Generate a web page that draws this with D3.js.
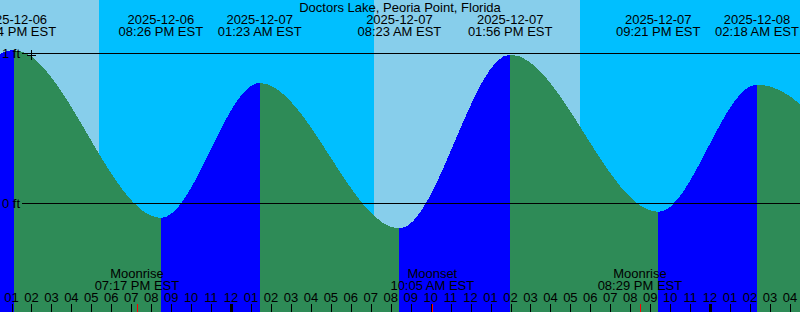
<html>
<head>
<style>
  body { margin: 0; }
  svg { display: block; }
  text { font-family: "Liberation Sans", Arial, sans-serif; font-size: 13px; fill: #000; }
</style>
</head>
<body>
<svg width="800" height="312"></svg>
<script src="https://cdnjs.cloudflare.com/ajax/libs/d3/7.8.5/d3.min.js"></script>
<script>
// tide extremes (local EST), first and last are just off screen
var tideTimes = ["2025-12-06 07:30", "2025-12-06 13:04", "2025-12-06 20:26", "2025-12-07 01:23",
                 "2025-12-07 08:23", "2025-12-07 13:56", "2025-12-07 21:21", "2025-12-08 02:18", "2025-12-08 09:00"]
var tideHeights = [-0.15, 1.02, -0.10, 0.80, -0.17, 0.99, -0.06, 0.79, -0.15]

// night = between sunset and sunrise
var nightStart = ["2025-12-06 17:23", "2025-12-07 17:29"]
var nightEnd   = ["2025-12-07 07:10", "2025-12-08 07:10"]

var moonTimes = ["2025-12-06 19:17", "2025-12-07 10:05", "2025-12-07 20:29"]
var moonNames = ["Moonrise", "Moonset", "Moonrise"]

var heightTicks = [1, 0]
var title = "Doctors Lake, Peoria Point, Florida"

var parse = d3.utcParse("%Y-%m-%d %H:%M")
var fmtDate = d3.utcFormat("%Y-%m-%d")
var fmtTime = d3.utcFormat("%I:%M %p EST")
var fmtHour = d3.utcFormat("%I")

var svg = d3.select("svg"),
	width = +svg.attr("width"),
	height = +svg.attr("height")

var x = d3.scaleUtc()
	.domain([parse("2025-12-06 13:00"), parse("2025-12-07 13:00")])
	.range([11.5, 11.5 + 24 * 19.96])
var y = d3.scaleLinear().domain([0, 1]).range([203, 53])

var tides = tideTimes.map(function(t, i) { return {t: parse(t), h: tideHeights[i]} })

// sky
svg.append("rect").attr("width", width).attr("height", height).style("fill", "#87ceeb")
svg.selectAll("rect.night")
	.data(nightStart.map(function(s, i) { return [parse(s), parse(nightEnd[i])] }))
	.enter().append("rect").attr("class", "night")
	.attr("x", function(d) { return Math.round(x(d[0])) })
	.attr("width", function(d) { return Math.round(x(d[1]) - x(d[0])) })
	.attr("y", 0).attr("height", height)
	.style("fill", "#00bfff")

// tide area, coloured per rising / falling segment
var area = d3.area()
	.x(function(d) { return x(d.t) + 1 })
	.y0(height)
	.y1(function(d) { return y(d.h) })
	.curve(d3.curveMonotoneX)

var defs = svg.append("defs")
var segs = d3.pairs(tides)
segs.forEach(function(s, i) {
	var x0 = Math.round(x(s[0].t)) + 1, x1 = Math.round(x(s[1].t)) + 1
	defs.append("clipPath").attr("id", "seg" + i)
		.append("rect")
		.attr("x", x0).attr("y", 0)
		.attr("width", x1 - x0).attr("height", height)
	svg.append("path")
		.datum(tides)
		.attr("d", area)
		.attr("clip-path", "url(#seg" + i + ")")
		.attr("shape-rendering", "crispEdges")
		.style("fill", s[1].h > s[0].h ? "#0000ff" : "#2e8b57")
})

// height lines
heightTicks.forEach(function(h) {
	var yy = Math.round(y(h)) + 0.5
	svg.append("line").attr("x1", 22).attr("x2", width).attr("y1", yy).attr("y2", yy)
		.style("stroke", "#000")
	svg.append("text").attr("x", 2).attr("y", yy + 4).text(h + " ft")
})
svg.append("line").attr("x1", 31.5).attr("x2", 31.5).attr("y1", 50).attr("y2", 60).style("stroke", "#000")
svg.append("line").attr("x1", 27).attr("x2", 36).attr("y1", 55.5).attr("y2", 55.5).style("stroke", "#000")

// title and extreme labels
svg.append("text").attr("x", width / 2).attr("y", 12).attr("text-anchor", "middle").text(title)
var shown = tides.filter(function(d) { return x(d.t) > -40 && x(d.t) < width + 40 })
var lab = svg.selectAll("g.ext").data(shown).enter().append("g").attr("class", "ext")
lab.append("text").attr("x", function(d) { return x(d.t) + 1 }).attr("y", 24)
	.attr("text-anchor", "middle").text(function(d) { return fmtDate(d.t) })
lab.append("text").attr("x", function(d) { return x(d.t) + 1 }).attr("y", 36)
	.attr("text-anchor", "middle").text(function(d) { return fmtTime(d.t) })

// hour axis
var hours = d3.utcHour.range(parse("2025-12-06 13:00"), parse("2025-12-08 05:00"))
svg.selectAll("text.hr").data(hours).enter().append("text").attr("class", "hr")
	.attr("x", function(d) { return x(d) }).attr("y", 302)
	.attr("text-anchor", "middle").text(fmtHour)
svg.selectAll("rect.tk").data(hours).enter().append("rect").attr("class", "tk")
	.attr("x", function(d) { var m = d.getUTCHours() == 0; return Math.round(x(d)) - (m ? 1 : 0) })
	.attr("width", function(d) { return d.getUTCHours() == 0 ? 3 : 1 })
	.attr("y", 304).attr("height", 8)
	.style("fill", "#000")

// moon events
var moon = moonTimes.map(function(t, i) { return {t: parse(t), name: moonNames[i]} })
var mg = svg.selectAll("g.moon").data(moon).enter().append("g").attr("class", "moon")
mg.append("rect").attr("x", function(d) { return Math.round(x(d.t)) }).attr("width", 1)
	.attr("y", 304).attr("height", 8).style("fill", "#ff0000")
mg.append("text").attr("x", function(d) { return x(d.t) }).attr("y", 278)
	.attr("text-anchor", "middle").text(function(d) { return d.name })
mg.append("text").attr("x", function(d) { return x(d.t) }).attr("y", 290)
	.attr("text-anchor", "middle").text(function(d) { return fmtTime(d.t) })
</script>
</body>
</html>
